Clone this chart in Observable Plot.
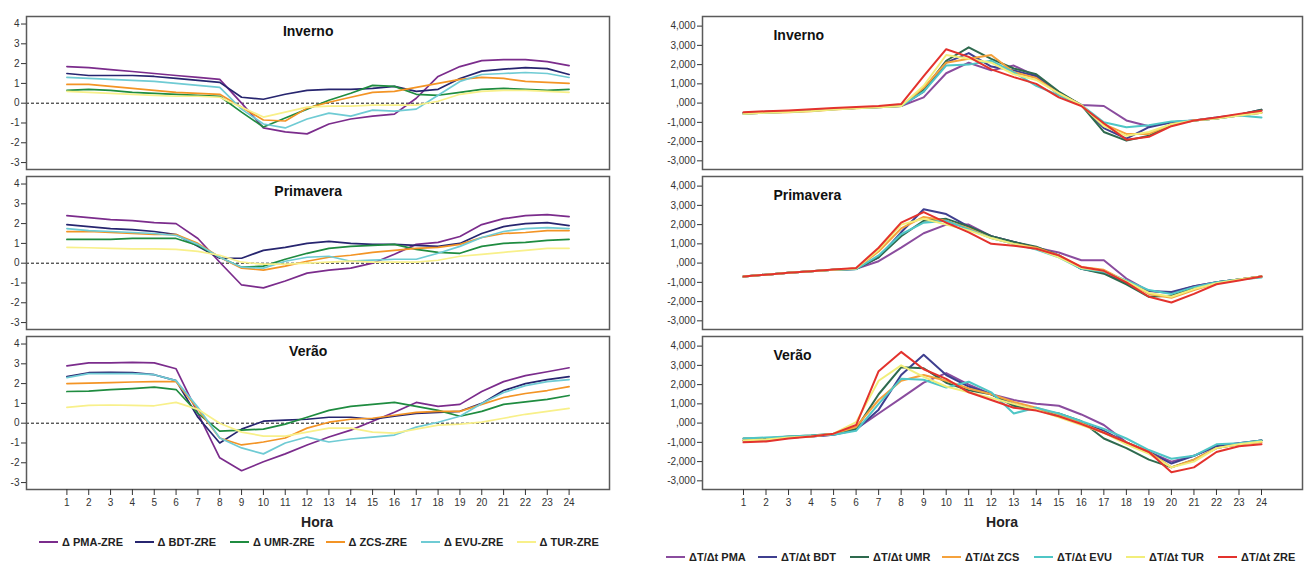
<!DOCTYPE html>
<html><head><meta charset="utf-8">
<script src="https://cdn.jsdelivr.net/npm/d3@7"></script>
<script src="https://cdn.jsdelivr.net/npm/@observablehq/plot@0.6"></script>
<style>
body{margin:0;background:#fff;font-family:"Liberation Sans",Arial,sans-serif;}
#wrap{position:relative;width:1304px;height:567px;overflow:hidden;background:#fff;}
.panel{position:absolute;top:0;}
.hora{position:absolute;font-weight:bold;font-size:14px;transform:translate(-50%,-50%);color:#222;}
.item{position:absolute;display:flex;align-items:center;transform:translateY(-50%);font-weight:bold;font-size:11px;color:#222;white-space:nowrap;}
.sw{display:inline-block;width:19px;height:0;border-top:2px solid;margin-right:4px;}
</style></head>
<body><div id="wrap"></div>
<script>
// ---------- shared categories ----------
const hours = [1,2,3,4,5,6,7,8,9,10,11,12,13,14,15,16,17,18,19,20,21,22,23,24];
const seasons = ["Inverno","Primavera","Verão"];
const hourTicks = hours;
const deltaTicks = [-3,-2,-1,0,1,2,3,4];
const rateTicks = [-3000,-2000,-1000,0,1000,2000,3000,4000];

// ---------- left panel: Δ (zone - ZRE) ----------
const deltaSeries = ["Δ PMA-ZRE","Δ BDT-ZRE","Δ UMR-ZRE","Δ ZCS-ZRE","Δ EVU-ZRE","Δ TUR-ZRE"];
const deltaColors = ["#7b2c8c","#27256f","#1f8c40","#f39425","#6fcbd4","#f8f08a"];

const deltaInverno = [
  [1.85,1.8,1.7,1.6,1.5,1.4,1.3,1.2,0.0,-1.25,-1.45,-1.55,-1.05,-0.8,-0.65,-0.55,0.25,1.35,1.85,2.15,2.2,2.2,2.1,1.9],
  [1.5,1.4,1.4,1.4,1.35,1.25,1.15,1.05,0.3,0.2,0.45,0.65,0.7,0.7,0.75,0.85,0.6,0.7,1.25,1.62,1.72,1.8,1.75,1.45],
  [0.65,0.7,0.65,0.55,0.5,0.45,0.4,0.35,-0.45,-1.2,-0.75,-0.3,0.15,0.5,0.9,0.85,0.45,0.4,0.55,0.7,0.75,0.7,0.65,0.7],
  [0.95,0.95,0.85,0.75,0.65,0.55,0.5,0.45,-0.2,-0.85,-0.9,-0.25,0.05,0.3,0.55,0.6,0.8,1.0,1.2,1.3,1.25,1.1,1.05,1.0],
  [1.3,1.25,1.2,1.15,1.1,1.0,0.9,0.8,-0.3,-1.05,-1.25,-0.8,-0.5,-0.65,-0.35,-0.4,-0.3,0.4,1.1,1.45,1.5,1.55,1.5,1.3],
  [0.6,0.55,0.5,0.45,0.4,0.35,0.35,0.3,-0.2,-0.7,-0.45,-0.2,-0.15,-0.15,-0.1,-0.1,-0.1,0.1,0.45,0.6,0.65,0.65,0.6,0.55]
];
const deltaPrimavera = [
  [2.4,2.3,2.2,2.15,2.05,2.0,1.25,0.05,-1.1,-1.25,-0.9,-0.5,-0.35,-0.25,0.0,0.45,0.95,1.05,1.35,1.95,2.25,2.4,2.45,2.35],
  [1.95,1.85,1.75,1.7,1.6,1.45,0.85,0.25,0.25,0.65,0.8,1.0,1.1,1.0,0.95,0.95,0.9,0.85,1.0,1.5,1.85,2.0,2.05,1.9],
  [1.2,1.2,1.2,1.25,1.25,1.25,0.9,0.3,-0.2,-0.15,0.2,0.5,0.75,0.85,0.9,0.95,0.7,0.55,0.5,0.85,1.0,1.05,1.15,1.2],
  [1.6,1.6,1.55,1.5,1.45,1.45,1.0,0.3,-0.25,-0.35,-0.15,0.1,0.3,0.4,0.55,0.65,0.75,0.8,0.95,1.3,1.5,1.55,1.65,1.65],
  [1.75,1.65,1.6,1.55,1.5,1.4,0.95,0.3,-0.2,-0.25,0.1,0.3,0.35,0.1,0.15,0.2,0.2,0.5,0.85,1.3,1.6,1.75,1.8,1.75],
  [0.8,0.78,0.75,0.72,0.72,0.7,0.6,0.4,0.05,-0.05,-0.05,0.0,0.05,0.1,0.05,0.05,0.05,0.15,0.35,0.45,0.55,0.65,0.75,0.75]
];
const deltaVerao = [
  [2.9,3.05,3.05,3.07,3.05,2.75,0.5,-1.75,-2.4,-1.95,-1.55,-1.1,-0.7,-0.35,0.1,0.55,1.05,0.85,0.95,1.6,2.1,2.4,2.6,2.8],
  [2.35,2.55,2.57,2.55,2.45,2.15,0.3,-1.0,-0.3,0.1,0.15,0.2,0.3,0.3,0.2,0.35,0.5,0.55,0.6,1.0,1.65,2.0,2.2,2.35],
  [1.6,1.62,1.7,1.75,1.82,1.7,0.5,-0.4,-0.35,-0.3,-0.05,0.3,0.65,0.85,0.95,1.05,0.85,0.65,0.35,0.6,0.95,1.08,1.2,1.4],
  [2.0,2.02,2.05,2.08,2.1,2.1,0.7,-0.75,-1.1,-0.95,-0.75,-0.25,0.05,0.2,0.25,0.4,0.55,0.6,0.6,0.95,1.3,1.5,1.65,1.85],
  [2.3,2.5,2.5,2.5,2.45,2.15,0.8,-0.75,-1.25,-1.55,-1.0,-0.7,-0.95,-0.8,-0.7,-0.6,-0.2,0.05,0.35,1.0,1.55,1.9,2.1,2.2],
  [0.8,0.9,0.92,0.9,0.88,1.05,0.7,0.0,-0.45,-0.65,-0.65,-0.45,-0.25,-0.25,-0.45,-0.5,-0.3,-0.1,-0.05,0.05,0.25,0.45,0.6,0.75]
];

// ---------- right panel: ΔT/Δt ----------
const rateSeries = ["ΔT/Δt PMA","ΔT/Δt BDT","ΔT/Δt UMR","ΔT/Δt ZCS","ΔT/Δt EVU","ΔT/Δt TUR","ΔT/Δt ZRE"];
const rateColors = ["#8a4c9e","#3f3f8f","#2e6a4e","#f5a23c","#4fc6c6","#f2ee7a","#e3322d"];

const rateInverno = [
  [-550,-500,-450,-400,-320,-260,-220,-150,300,1550,2100,1700,1950,1400,450,-100,-150,-900,-1200,-1000,-900,-800,-650,-500],
  [-520,-450,-420,-380,-300,-250,-200,-150,600,2100,2600,1900,1700,1400,550,-100,-1300,-1850,-1250,-1000,-900,-750,-600,-350],
  [-520,-480,-420,-380,-300,-250,-200,-130,700,2200,2900,2300,1800,1500,600,-100,-1500,-1950,-1700,-1100,-900,-800,-600,-350],
  [-550,-500,-480,-420,-330,-270,-220,-150,800,2100,2300,2500,1600,1300,500,-100,-1100,-1600,-1600,-1100,-900,-800,-650,-500],
  [-550,-500,-450,-400,-320,-260,-220,-150,600,1950,2000,2200,1600,900,400,-100,-1000,-1250,-1150,-950,-900,-800,-650,-750],
  [-550,-500,-460,-410,-330,-270,-220,-150,900,2500,2300,2100,1500,1200,500,-100,-1200,-1700,-1500,-1100,-900,-800,-650,-500],
  [-480,-420,-380,-320,-260,-200,-150,-50,1400,2800,2400,1750,1350,1000,300,-150,-1050,-1900,-1750,-1200,-900,-750,-560,-400]
];
const ratePrimavera = [
  [-700,-600,-500,-420,-350,-300,100,800,1550,2000,2000,1400,1100,800,550,150,150,-800,-1450,-1550,-1200,-1000,-850,-700],
  [-700,-600,-500,-420,-350,-300,300,1600,2800,2550,1900,1400,1100,800,400,-300,-500,-1050,-1450,-1500,-1200,-1000,-850,-700],
  [-700,-600,-500,-420,-350,-300,300,1400,2200,2300,1900,1400,1100,850,400,-300,-550,-1100,-1750,-1700,-1300,-1000,-850,-700],
  [-700,-600,-500,-420,-350,-280,600,1800,2400,2200,1800,1300,1000,800,400,-200,-350,-950,-1600,-1800,-1400,-1050,-850,-700],
  [-700,-600,-500,-420,-350,-320,400,1500,2100,2200,1750,1300,1000,700,300,-300,-450,-900,-1400,-1600,-1250,-1000,-850,-750],
  [-700,-600,-500,-420,-350,-280,700,2000,2300,2000,1700,1300,1000,750,300,-250,-400,-950,-1550,-1750,-1350,-1050,-850,-700],
  [-700,-600,-500,-420,-330,-250,800,2100,2650,2100,1600,1000,900,750,400,-200,-400,-1000,-1750,-2050,-1600,-1100,-900,-700]
];
const rateVerao = [
  [-900,-850,-750,-700,-600,-300,500,1300,2100,2600,2000,1500,1200,1000,900,450,-100,-1000,-1500,-2000,-1700,-1200,-1050,-900],
  [-900,-850,-750,-700,-600,-350,700,2500,3550,2500,1900,1500,1000,700,400,0,-400,-1000,-1500,-2100,-1700,-1200,-1050,-900],
  [-800,-800,-700,-650,-550,-300,1500,2900,2850,2100,1700,1500,900,700,500,100,-800,-1300,-1900,-2300,-1900,-1300,-1100,-900],
  [-900,-850,-750,-700,-550,-200,1200,2200,2500,2200,1800,1500,1100,800,450,0,-500,-1000,-1500,-2300,-1900,-1300,-1100,-1000],
  [-800,-750,-700,-650,-600,-400,1000,2300,2250,1850,2150,1600,500,800,500,100,-300,-800,-1400,-1850,-1700,-1100,-1050,-900],
  [-900,-850,-750,-700,-550,50,2200,3000,2400,1900,1600,1300,1000,700,300,-100,-500,-1100,-1600,-2300,-2000,-1300,-1100,-950],
  [-1000,-950,-800,-700,-550,-100,2700,3700,2800,2300,1600,1200,800,650,350,-50,-500,-1000,-1500,-2550,-2300,-1500,-1200,-1100]
];

// ---------- build tidy tables ----------
function tidy(seriesNames, perSeason) {
  const rows = [];
  seasons.forEach((s, si) => {
    perSeason[si].forEach((vals, i) => {
      vals.forEach((v, hi) => rows.push({season: s, series: seriesNames[i], hour: hours[hi], value: v}));
    });
  });
  return rows;
}
const deltaRows = tidy(deltaSeries, [deltaInverno, deltaPrimavera, deltaVerao]);
const rateRows = tidy(rateSeries, [rateInverno, ratePrimavera, rateVerao]);

const wrap = document.getElementById("wrap");
const fontStyle = {fontFamily: "'Liberation Sans', Arial, sans-serif", fontSize: "10px", color: "#333", background: "#fff", overflow: "visible"};

function panel(cfg) {
  const marks = [];
  if (cfg.zeroRule) marks.push(Plot.ruleY([0], {stroke: "#111", strokeWidth: 1, strokeDasharray: "3,2"}));
  marks.push(
    Plot.line(cfg.rows, {x: "hour", y: "value", z: "series", stroke: "series", fy: "season", strokeWidth: cfg.lineWidth, curve: "linear"}),
    Plot.frame({stroke: "#5a5a5a", strokeWidth: 1.5}),
    Plot.axisY({ticks: cfg.yTicks, tickFormat: cfg.yFormat, tickSize: 5, tickPadding: 2, label: null}),
    Plot.axisX({ticks: hourTicks, tickFormat: d => String(d), tickSize: 6, tickPadding: 3, label: null}),
    Plot.text(seasons, {fy: d => d, text: d => d, x: () => cfg.titleX, frameAnchor: "top", lineAnchor: "top", dy: cfg.titleDy,
      textAnchor: cfg.titleAnchor, fontSize: 14, fontWeight: "bold", fill: "#111"})
  );
  const svg = Plot.plot({
    width: cfg.width, height: 535,
    marginLeft: cfg.marginLeft, marginRight: cfg.marginRight, marginTop: 15, marginBottom: 46,
    style: fontStyle,
    x: {domain: cfg.xDomain},
    y: {domain: cfg.yDomain},
    fy: {domain: seasons, axis: null, paddingInner: 0.044, paddingOuter: 0},
    color: {domain: cfg.series, range: cfg.colors},
    marks
  });
  const div = document.createElement("div");
  div.className = "panel";
  div.style.left = cfg.left + "px";
  div.appendChild(svg);
  wrap.appendChild(div);
}

panel({
  rows: deltaRows, series: deltaSeries, colors: deltaColors, left: 0, width: 640,
  marginLeft: 26, marginRight: 31, xDomain: [-0.85, 25.85], yDomain: [-3.35, 4.38],
  yTicks: deltaTicks, yFormat: d => String(d), zeroRule: true, lineWidth: 1.7,
  titleX: 12.05, titleAnchor: "middle", titleDy: 10
});
panel({
  rows: rateRows, series: rateSeries, colors: rateColors, left: 640, width: 664,
  marginLeft: 62, marginRight: 2, xDomain: [-0.82, 25.82], yDomain: [-3450, 4500],
  yTicks: rateTicks, yFormat: d => d === 0 ? ",000" : (d < 0 ? "-" : "") + d3.format(",")(Math.abs(d)),
  zeroRule: false, lineWidth: 2,
  titleX: 2.33, titleAnchor: "start", titleDy: 14
});

// axis titles
function addHora(x, y) {
  const h = document.createElement("div");
  h.className = "hora"; h.textContent = "Hora";
  h.style.left = x + "px"; h.style.top = y + "px";
  wrap.appendChild(h);
}
addHora(317, 522);
addHora(1002, 522);

// legends
function legend(names, colors, x0, step, y) {
  names.forEach((n, i) => {
    const it = document.createElement("div");
    it.className = "item";
    it.style.left = (x0 + i * step) + "px";
    it.style.top = y + "px";
    const sw = document.createElement("span");
    sw.className = "sw"; sw.style.borderTopColor = colors[i];
    const t = document.createElement("span"); t.textContent = n;
    it.appendChild(sw); it.appendChild(t);
    wrap.appendChild(it);
  });
}
legend(deltaSeries, deltaColors, 39, 95.5, 542);
legend(rateSeries, rateColors, 666, 92, 557);
</script>
</body></html>
